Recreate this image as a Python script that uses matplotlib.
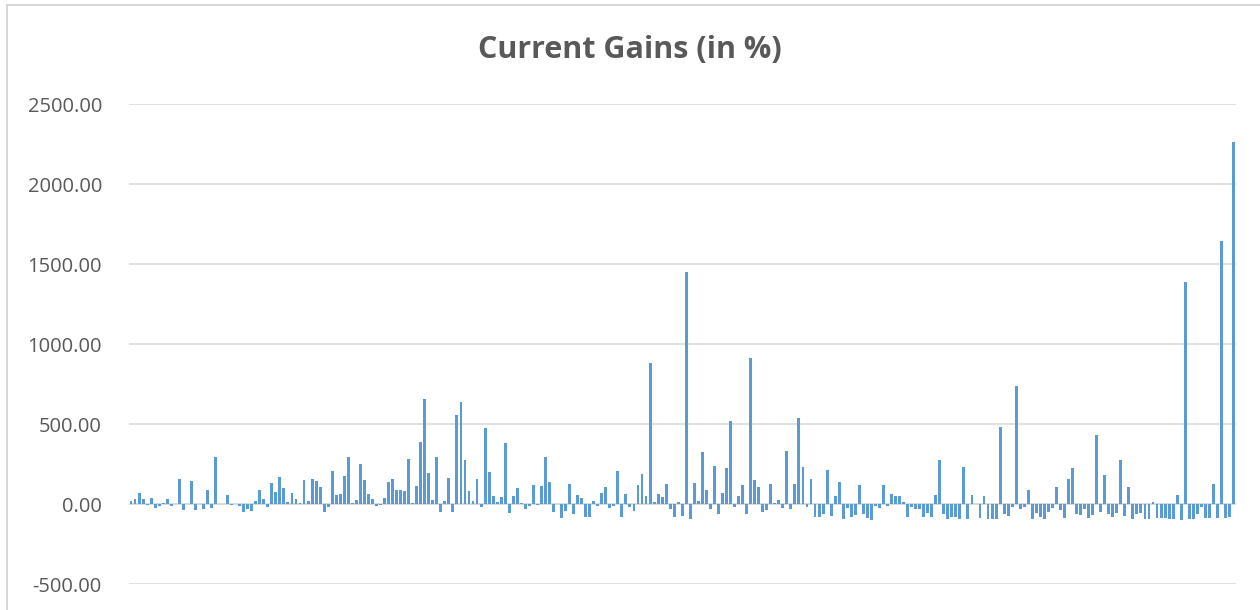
import matplotlib

matplotlib.use("Agg")
import matplotlib.pyplot as plt
from matplotlib.patches import Rectangle
from matplotlib.ticker import FixedLocator, FuncFormatter

TITLE = "Current Gains (in %)"

# one value per holding
gains = [
    20, 30, 68, 30, -6, 40, -27, -10, 4, 30,
    -10, 2, 155, -35, 2, 145, -35, 0, -31, 85,
    -25, 294, 0, 0, 54, -6, 0, -10, -48, -31,
    -41, 21, 87, 31, -17, 130, 75, 168, 101, 10,
    66, 31, 4, 147, 21, 157, 145, 108, -50, -19,
    205, 54, 62, 174, 292, 4, 23, 253, 153, 60,
    29, -10, -4, 35, 139, 159, 85, 87, 81, 280,
    6, 112, 385, 658, 195, 23, 292, -48, 19, 164,
    -48, 559, 638, 273, 79, 17, 157, -19, 476, 201,
    50, 12, 41, 379, -58, 50, 101, 4, -29, -10,
    118, -8, 110, 292, 135, -52, 2, -85, -41, 122,
    -62, 58, 37, -81, -81, 17, -10, 66, 104, -27,
    -10, 205, -81, 64, -19, -41, 116, 186, 50, 883,
    14, 60, 46, 122, -29, -79, 10, -75, 1448, -91,
    130, 19, 323, 89, -33, 240, -64, 70, 224, 520,
    -21, 50, 118, -62, 910, 153, 104, -48, -35, 126,
    4, 23, -27, 329, -29, 128, 536, 230, -17, 157,
    -83, -83, -62, 215, -72, 48, 137, -95, -27, -83,
    -68, 118, -62, -89, -97, -10, -25, 116, -10, 64,
    52, 52, 14, -79, -17, -33, -33, -83, -58, -83,
    56, 273, -64, -95, -81, -81, -95, 232, -95, 58,
    0, -87, 50, -93, -93, -91, 484, -64, -77, -21,
    735, -29, -17, 85, -93, -56, -79, -93, -48, -23,
    106, -35, -89, 155, 224, -62, -68, -29, -89, -70,
    430, -50, 184, -62, -83, -54, 277, -72, 106, -91,
    -64, -54, -93, -93, 12, -89, -89, -89, -93, -93,
    56, -97, 1389, -93, -93, -60, -21, -89, -89, 124,
    -85, 1646, -89, -83, 2264,
]
positions = list(range(len(gains)))
y_ticks = [-500, 0, 500, 1000, 1500, 2000, 2500]

BAR_COLOR = "#5B9BD5"
GRID_COLOR = "#D9D9D9"
TEXT_COLOR = "#595959"

plt.rcParams["font.family"] = ["Open Sans", "DejaVu Sans"]

fig = plt.figure(figsize=(12.6, 6.1), dpi=100)
axis = fig.add_axes((129 / 1260, 26 / 610, 1106.5 / 1260, 480 / 610))

axis.bar(positions, gains, width=0.72, color=BAR_COLOR, linewidth=0, zorder=3)

axis.set_xlim(-0.5, len(gains) - 0.5)
axis.set_ylim(y_ticks[0], y_ticks[-1])
axis.yaxis.set_major_locator(FixedLocator(y_ticks))
axis.yaxis.set_major_formatter(FuncFormatter(lambda v, _: f"{v:.2f}"))
axis.grid(axis="y", color=GRID_COLOR, linewidth=1.1, zorder=0)
axis.axhline(0, color=GRID_COLOR, linewidth=1.1, zorder=1)
axis.set_xticks([])
axis.tick_params(axis="y", length=0, pad=19.5, labelsize=14.5, labelcolor=TEXT_COLOR)
for spine in axis.spines.values():
    spine.set_visible(False)

fig.text(0.5, 1 - 50 / 610, TITLE, ha="center", va="center",
         fontsize=22, fontweight="bold", color=TEXT_COLOR)

# light frame of the chart area, as in the spreadsheet screenshot
fig.patches.append(Rectangle((7 / 1260, -0.05), 1.1, 1 - 5 / 610 + 0.05,
                             transform=fig.transFigure, fill=False,
                             edgecolor="#D0D0D0", linewidth=1.2))

fig.savefig("out.png", dpi=100)
